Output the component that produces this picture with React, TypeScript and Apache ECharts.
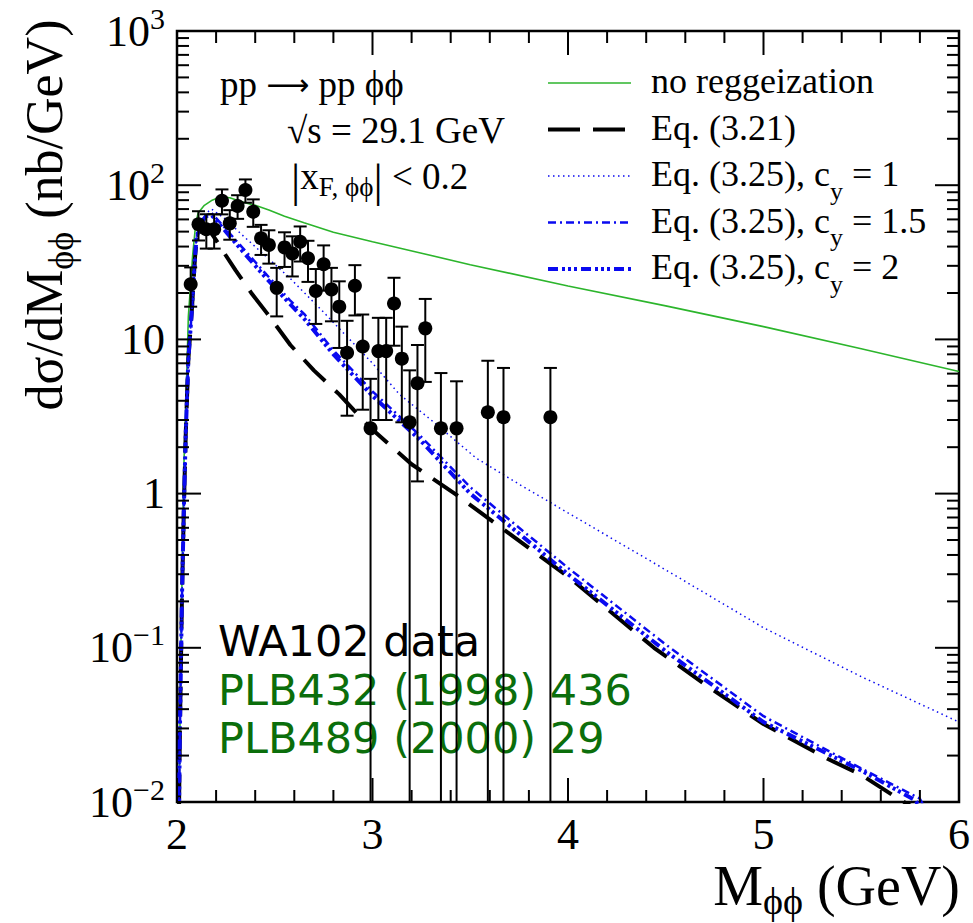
import React, { useEffect, useRef } from "react";
import * as echarts from "echarts";

const SERIF = "'Liberation Serif', 'Times New Roman', serif";
const SANS = "'DejaVu Sans', sans-serif";
const PHI = "\u03d5";

// axis ranges and ticks
const X_MIN = 2;
const X_MAX = 6;
const X_MAJOR_STEP = 1;
const X_MINOR_STEP = 0.2;
const Y_MIN = 0.01;
const Y_MAX = 1000;
const Y_DECADES = [-2, -1, 0, 1, 2, 3];

// WA102 data points
const dataM = [2.07, 2.11, 2.15, 2.19, 2.23, 2.27, 2.31, 2.35, 2.39, 2.43, 2.47, 2.51, 2.55, 2.59, 2.63, 2.67, 2.71, 2.75, 2.79, 2.83, 2.87, 2.91, 2.95, 2.99, 3.03, 3.07, 3.11, 3.15, 3.19, 3.23, 3.27, 3.35, 3.43, 3.59, 3.67, 3.91];
const dataV = [22.8, 55.8, 51.8, 51.8, 79.3, 56.6, 73.3, 93, 67.3, 45.3, 41, 21.6, 39.5, 36.1, 43, 33.6, 20.6, 30.7, 21.1, 16.3, 8.2, 22.3, 9.0, 2.65, 8.4, 8.4, 17.1, 7.5, 2.9, 5.2, 11.8, 2.65, 2.65, 3.37, 3.13, 3.13];
const dataErr = [6.5, 12, 13, 13, 14.6, 12.3, 12.8, 16, 13.6, 10, 10, 7.5, 10, 10.5, 11, 10, 8, 10, 8, 7.5, 5, 8, 5.5, 2.9, 5.4, 5.4, 8, 4.6, 3.4, 4, 6.5, 3.4, 2.7, 3.9, 3.4, 3.4];

// no reggeization (green)
const greenM = [2.008, 2.02, 2.035, 2.05, 2.058, 2.08, 2.095, 2.108, 2.14, 2.18, 2.22, 2.27, 2.33, 2.4, 2.47, 2.55, 2.65, 2.8, 3.0, 3.24, 3.5, 4.0, 4.5, 5.0, 5.5, 6.0];
const greenV = [0.005, 0.1, 1.5, 6, 14, 35, 55, 66, 74, 80, 84, 83, 78, 74, 69, 63, 57, 49.5, 43, 36.5, 30.5, 22.2, 16.5, 12.1, 8.7, 6.2];

// Eq. (3.21) (black long dash)
const eq321M = [2.008, 2.015, 2.025, 2.035, 2.045, 2.058, 2.075, 2.092, 2.1, 2.12, 2.14, 2.17, 2.2, 2.25, 2.3, 2.38, 2.46, 2.58, 2.7, 2.83, 2.985, 3.2, 3.43, 3.7, 4.0, 4.44, 4.7, 5.0, 5.33, 5.5, 5.69, 5.75, 5.8];
const eq321V = [0.005, 0.03, 0.2, 0.8, 2.5, 7.4, 14.8, 34, 44, 52, 54, 50, 44, 35, 28, 20, 14.8, 9.2, 6.3, 4.4, 2.7, 1.55, 0.98, 0.55, 0.29, 0.1, 0.058, 0.032, 0.019, 0.015, 0.0105, 0.0095, 0.008];

// Eq. (3.25), c_y = 1 (blue dotted)
const cy1M = [2.008, 2.015, 2.025, 2.035, 2.045, 2.058, 2.075, 2.092, 2.1, 2.126, 2.15, 2.177, 2.25, 2.33, 2.45, 2.577, 2.75, 2.9, 3.0, 3.138, 3.3, 3.53, 3.75, 4.0, 4.5, 5.0, 5.5, 6.0];
const cy1V = [0.005, 0.03, 0.2, 0.8, 2.5, 7.4, 14.8, 34, 46, 60, 66, 70, 60, 48, 35, 25, 15, 9.5, 7.0, 4.4, 3.0, 1.7, 1.15, 0.75, 0.32, 0.135, 0.065, 0.033];

// Eq. (3.25), c_y = 1.5 (blue dash-dot)
const cy15M = [2.008, 2.015, 2.025, 2.035, 2.045, 2.058, 2.075, 2.092, 2.1, 2.126, 2.15, 2.177, 2.25, 2.33, 2.45, 2.577, 2.653, 2.8, 3.0, 3.24, 3.5, 3.75, 4.0, 4.5, 5.0, 5.5, 5.8, 5.85];
const cy15V = [0.005, 0.03, 0.2, 0.8, 2.5, 7.4, 14.8, 34, 46, 59, 64, 66, 52, 40, 27, 18, 14.5, 8.5, 4.6, 2.4, 1.1, 0.6, 0.33, 0.105, 0.036, 0.0165, 0.0105, 0.008];

// Eq. (3.25), c_y = 2 (blue dash-dot-dot)
const cy2M = [2.008, 2.015, 2.025, 2.035, 2.045, 2.058, 2.075, 2.092, 2.1, 2.126, 2.15, 2.177, 2.25, 2.33, 2.45, 2.577, 2.653, 2.8, 3.0, 3.24, 3.5, 3.75, 4.0, 4.5, 5.0, 5.5, 5.78, 5.82];
const cy2V = [0.005, 0.03, 0.2, 0.8, 2.5, 7.4, 14.8, 34, 46, 58, 63, 64, 50, 38, 25.5, 17, 13.5, 8, 4.3, 2.25, 1.0, 0.55, 0.30, 0.095, 0.033, 0.016, 0.0102, 0.008];

const GREEN = "#2cb52c";
const BLUE = "#0a0af0";
const DARKGREEN = "#0b6e0b";

const LEGEND_TEXTS = [
  "{m|no reggeization}",
  "{m|Eq. (3.21)}",
  "{m|Eq. (3.25), c}{s|y}{m| = 1}",
  "{m|Eq. (3.25), c}{s|y}{m| = 1.5}",
  "{m|Eq. (3.25), c}{s|y}{m| = 2}",
];
const LEGEND_STYLES = [
  { stroke: GREEN, lineWidth: 1.6, lineDash: null as any },
  { stroke: "#000", lineWidth: 4, lineDash: [32, 13] },
  { stroke: BLUE, lineWidth: 1.5, lineDash: [1.5, 3.5] },
  { stroke: BLUE, lineWidth: 2.5, lineDash: [8, 4, 2, 4] },
  { stroke: BLUE, lineWidth: 4, lineDash: [10, 4, 3, 3, 3, 3, 3, 4] },
];

const zip = (a: number[], b: number[]) => a.map((v, i) => [v, b[i]]);

export default function App() {
  const ref = useRef<HTMLDivElement>(null);
  useEffect(() => {
    const chart = echarts.init(ref.current!, null, { renderer: "svg" });

    const tickRender = (params: any, api: any) => {
      const cs = params.coordSys;
      const top = cs.y;
      const bottom = cs.y + cs.height;
      const left = cs.x;
      const right = cs.x + cs.width;
      const st = { stroke: "#000", lineWidth: 2 };
      const children: any[] = [];
      const nx = Math.round((X_MAX - X_MIN) / X_MINOR_STEP);
      const perMajor = Math.round(X_MAJOR_STEP / X_MINOR_STEP);
      for (let k = 0; k <= nx; k++) {
        const v = X_MIN + k * X_MINOR_STEP;
        const L = k % perMajor === 0 ? 24 : 12;
        const px = api.coord([v, 1])[0];
        children.push({ type: "line", shape: { x1: px, y1: bottom, x2: px, y2: bottom - L }, style: st });
        children.push({ type: "line", shape: { x1: px, y1: top, x2: px, y2: top + L }, style: st });
      }
      for (const d of Y_DECADES) {
        for (let m = 1; m <= 9; m++) {
          const v = m * Math.pow(10, d);
          if (v > Y_MAX * 1.0001) break;
          const L = m === 1 ? 24 : 12;
          const py = api.coord([X_MIN, v])[1];
          children.push({ type: "line", shape: { x1: left, y1: py, x2: left + L, y2: py }, style: st });
          children.push({ type: "line", shape: { x1: right, y1: py, x2: right - L, y2: py }, style: st });
        }
      }
      return { type: "group", children };
    };

    const errRender = (params: any, api: any) => {
      const x = api.value(0);
      const y = api.value(1);
      const e = api.value(2);
      const hi = Math.min(y + e, Y_MAX);
      const lo = y - e;
      const pHi = api.coord([x, hi]);
      const pLo = api.coord([x, lo > Y_MIN ? lo : Y_MIN]);
      const st = { stroke: "#000", lineWidth: 2 };
      const cap = 6.5;
      const children: any[] = [
        { type: "line", shape: { x1: pHi[0], y1: pHi[1], x2: pLo[0], y2: pLo[1] }, style: st },
        { type: "line", shape: { x1: pHi[0] - cap, y1: pHi[1], x2: pHi[0] + cap, y2: pHi[1] }, style: st },
      ];
      if (lo > Y_MIN) {
        children.push({ type: "line", shape: { x1: pLo[0] - cap, y1: pLo[1], x2: pLo[0] + cap, y2: pLo[1] }, style: st });
      }
      return { type: "group", children };
    };

    const yLabel = (v: number) => {
      const e = Math.round(Math.log10(v));
      if (e === 0) return "{n|1}";
      if (e === 1) return "{n|10}";
      return `{n|10}{s|${e < 0 ? "\u2212" + -e : e}}`;
    };

    const legendTop = 83;
    const legendGap = 46.5;
    const legendGraphics: any[] = [];
    LEGEND_TEXTS.forEach((t, i) => {
      const y = legendTop + i * legendGap;
      const s = LEGEND_STYLES[i];
      legendGraphics.push({
        type: "line",
        shape: { x1: 548, y1: y, x2: 631, y2: y },
        style: { stroke: s.stroke, lineWidth: s.lineWidth, lineDash: s.lineDash || undefined },
      });
      legendGraphics.push({
        type: "text",
        x: 651,
        y: y - 2,
        style: {
          text: t,
          align: "left",
          verticalAlign: "middle",
          rich: {
            m: { fontFamily: SERIF, fontSize: 36, fill: "#000", lineHeight: 40 },
            s: { fontFamily: SERIF, fontSize: 26, fill: "#000", padding: [34, 0, 0, 0], lineHeight: 28 },
          },
        },
      });
    });

    const option: any = {
      animation: false,
      backgroundColor: "#fff",
      grid: {
        left: 177,
        top: 31,
        width: 784,
        height: 771,
        show: true,
        borderColor: "#000",
        borderWidth: 2.5,
        backgroundColor: "#fff",
      },
      xAxis: {
        type: "value",
        min: X_MIN,
        max: X_MAX,
        interval: X_MAJOR_STEP,
        axisLine: { show: false },
        axisTick: { show: false },
        splitLine: { show: false },
        axisLabel: {
          color: "#000",
          fontFamily: SERIF,
          fontSize: 44,
          margin: 10,
          formatter: (v: number) => String(v),
        },
      },
      yAxis: {
        type: "log",
        logBase: 10,
        min: Y_MIN,
        max: Y_MAX,
        splitNumber: 5,
        axisLine: { show: false },
        axisTick: { show: false },
        splitLine: { show: false },
        axisLabel: {
          color: "#000",
          margin: 12,
          formatter: yLabel,
          rich: {
            n: { fontFamily: SERIF, fontSize: 44, color: "#000" },
            s: { fontFamily: SERIF, fontSize: 30, color: "#000", padding: [0, 0, 26, 0] },
          },
        },
      },
      series: [
        {
          name: "no reggeization",
          type: "line",
          data: zip(greenM, greenV),
          symbol: "none",
          lineStyle: { color: GREEN, width: 1.6 },
          z: 2,
        },
        {
          name: "Eq. (3.21)",
          type: "line",
          data: zip(eq321M, eq321V),
          symbol: "none",
          lineStyle: { color: "#000", width: 4, type: [30, 14] },
          z: 3,
        },
        {
          name: "Eq. (3.25), c_y = 1",
          type: "line",
          data: zip(cy1M, cy1V),
          symbol: "none",
          lineStyle: { color: BLUE, width: 1.5, type: [1.5, 3.5] },
          z: 3,
        },
        {
          name: "Eq. (3.25), c_y = 1.5",
          type: "line",
          data: zip(cy15M, cy15V),
          symbol: "none",
          lineStyle: { color: BLUE, width: 2.5, type: [8, 4, 2, 4] },
          z: 3,
        },
        {
          name: "Eq. (3.25), c_y = 2",
          type: "line",
          data: zip(cy2M, cy2V),
          symbol: "none",
          lineStyle: { color: BLUE, width: 4, type: [10, 4, 3, 3, 3, 3, 3, 4] },
          z: 3,
        },
        {
          name: "errors",
          type: "custom",
          renderItem: errRender,
          data: dataM.map((m, i) => [m, dataV[i], dataErr[i]]),
          encode: { x: 0, y: 1 },
          silent: true,
          z: 4,
        },
        {
          name: "WA102 data",
          type: "scatter",
          data: zip(dataM, dataV),
          symbol: "circle",
          symbolSize: 14,
          itemStyle: { color: "#000", opacity: 1 },
          silent: true,
          z: 5,
        },
        {
          name: "ticks",
          type: "custom",
          renderItem: tickRender,
          data: [[X_MIN, 1]],
          encode: { x: 0, y: 1 },
          silent: true,
          z: 6,
        },
      ],
      graphic: [
        // y-axis title
        {
          type: "text",
          x: 44,
          y: 215,
          rotation: Math.PI / 2,
          style: {
            text: `{m|d\u03c3/dM}{s|${PHI}${PHI}}{m| (nb/GeV)}`,
            align: "center",
            verticalAlign: "middle",
            rich: {
              m: { fontFamily: SERIF, fontSize: 52, fill: "#000", lineHeight: 56 },
              s: { fontFamily: SERIF, fontSize: 36, fill: "#000", padding: [34, 0, 0, 0], lineHeight: 38 },
            },
          },
        },
        // x-axis title
        {
          type: "text",
          x: 960,
          y: 886,
          style: {
            text: `{m|M}{s|${PHI}${PHI}}{m| (GeV)}`,
            align: "right",
            verticalAlign: "middle",
            rich: {
              m: { fontFamily: SERIF, fontSize: 56, fill: "#000", lineHeight: 50 },
              s: { fontFamily: SERIF, fontSize: 38, fill: "#000", padding: [30, 0, 0, 0], lineHeight: 34 },
            },
          },
        },
        // process annotations
        {
          type: "text",
          x: 220,
          y: 84,
          style: {
            text: `{m|pp }{a|\u27f6}{m| pp ${PHI}${PHI}}`,
            align: "left",
            verticalAlign: "middle",
            rich: {
              m: { fontFamily: SERIF, fontSize: 37, fill: "#000", lineHeight: 40 },
              a: { fontFamily: SANS, fontSize: 30, fill: "#000", lineHeight: 40 },
            },
          },
        },
        {
          type: "text",
          x: 287,
          y: 130,
          style: { text: "\u221as = 29.1 GeV", fontFamily: SERIF, fontSize: 37, fill: "#000", align: "left", verticalAlign: "middle" },
        },
        {
          type: "text",
          x: 291,
          y: 176,
          style: {
            text: `{b||}{m|x}{s|F, ${PHI}${PHI}}{b||}{m| < 0.2}`,
            align: "left",
            verticalAlign: "middle",
            rich: {
              m: { fontFamily: SERIF, fontSize: 37, fill: "#000", lineHeight: 40 },
              b: { fontFamily: SERIF, fontSize: 46, fill: "#000", lineHeight: 48, padding: [8, 0, 0, 0] },
              s: { fontFamily: SERIF, fontSize: 27, fill: "#000", padding: [22, 0, 0, 0], lineHeight: 28 },
            },
          },
        },
        ...legendGraphics,
        // data source texts
        {
          type: "text",
          x: 218,
          y: 641,
          style: { text: "WA102 data", fontFamily: SANS, fontSize: 43, fill: "#000", align: "left", verticalAlign: "middle" },
        },
        {
          type: "text",
          x: 218,
          y: 690,
          style: { text: "PLB432 (1998) 436", fontFamily: SANS, fontSize: 43, fill: DARKGREEN, align: "left", verticalAlign: "middle" },
        },
        {
          type: "text",
          x: 218,
          y: 738,
          style: { text: "PLB489 (2000) 29", fontFamily: SANS, fontSize: 43, fill: DARKGREEN, align: "left", verticalAlign: "middle" },
        },
      ],
    };

    chart.setOption(option);
    return () => chart.dispose();
  }, []);

  return (
    <div
      ref={ref}
      style={{ position: "absolute", left: 0, top: 0, width: 973, height: 923, background: "#fff" }}
    />
  );
}
